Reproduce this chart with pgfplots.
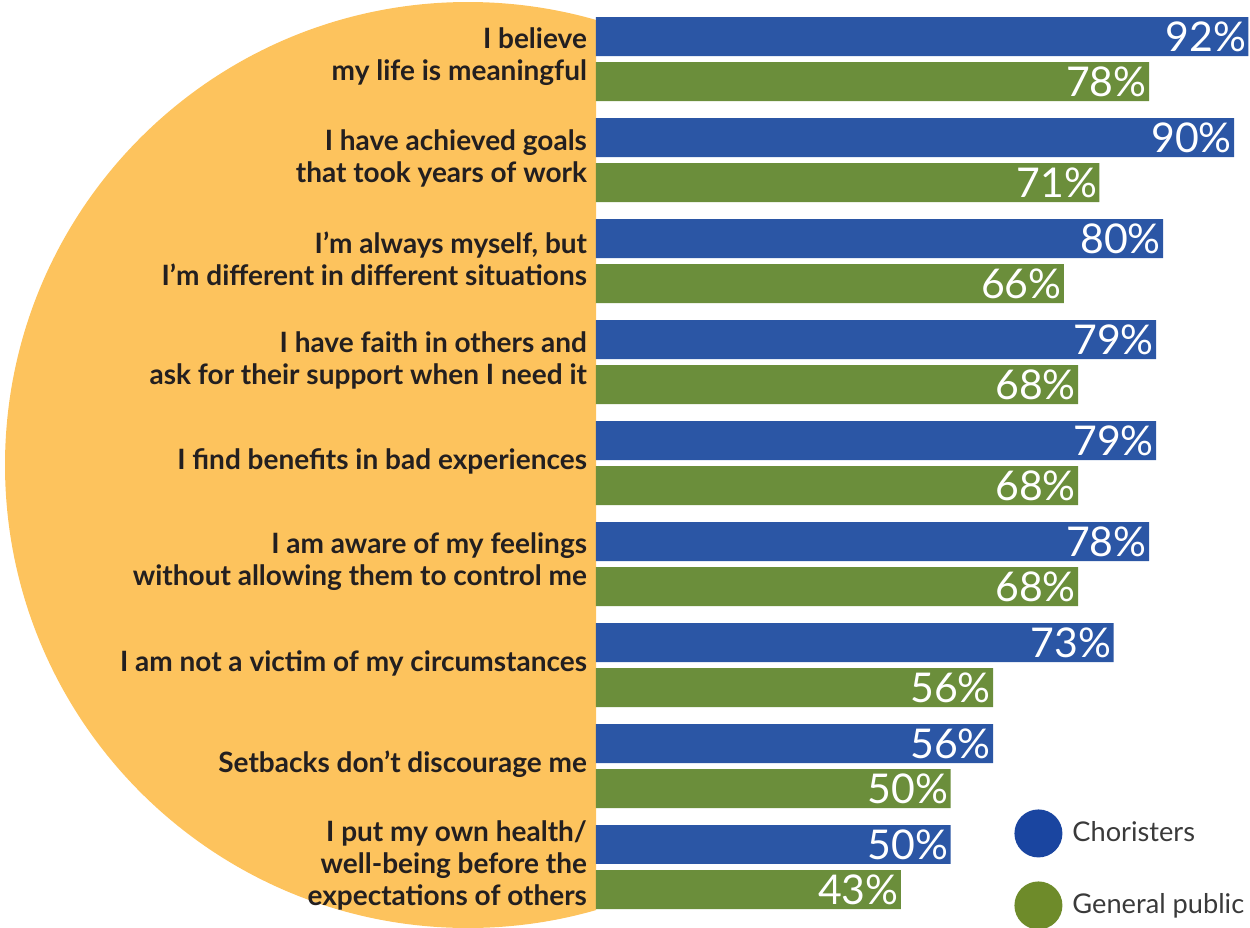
\documentclass[border=0pt]{standalone}
\usepackage{fontspec}
\setmainfont{Lato}
\usepackage{pgfplots}
\pgfplotsset{compat=1.18}

\definecolor{halo}{HTML}{FDC35D}
\definecolor{barblue}{HTML}{2B56A5}
\definecolor{bargreen}{HTML}{6B8E3B}
\definecolor{legblue}{HTML}{1A45A0}
\definecolor{leggreen}{HTML}{6E8B2A}
\definecolor{labtext}{HTML}{231F20}
\definecolor{legtext}{HTML}{3A3A3A}

% 1 px of the reference = 0.5pt
\begin{document}
\begin{tikzpicture}
\useasboundingbox (0,0) rectangle (625pt,-464pt);
\begin{scope}
  \clip (0,0) rectangle (298pt,-464pt);
  \fill[halo] (234pt,-232.5pt) circle (231.5pt);
\end{scope}
\begin{axis}[
    at={(298pt,0pt)}, anchor=north west,
    scale only axis, width=327pt, height=464pt,
    xmin=0, xmax=92.24, ymin=-0.5842, ymax=8.604, y dir=reverse,
    xbar, bar width=0.386, bar shift=0pt,
    axis line style={draw=none}, xtick=\empty,
    ytick={0,...,8}, major tick length=0pt,
    yticklabels={
      {I believe\\my life is meaningful},
      {I have achieved goals\\that took years of work},
      {I’m always myself, but\\I’m different in different situations},
      {I have faith in others and\\ask for their support when I need it},
      {I find benefits in bad experiences},
      {I am aware of my feelings\\without allowing them to control me},
      {I am not a victim of my circumstances},
      {Setbacks don’t discourage me},
      {I put my own health/\\well-being before the\\expectations of others}},
    yticklabel style={align=right, text=labtext, yshift=1pt, xshift=-1pt,
      font=\bfseries\fontsize{14}{16}\selectfont},
    /pgf/number format/assume math mode=true,
    point meta=x,
    nodes near coords={\pgfmathprintnumber{\pgfplotspointmeta}\%},
    nodes near coords style={anchor=east, text=white, inner sep=1pt,
      font=\fontsize{20.5}{20}\selectfont},
    clip=false,
    legend cell align=left,
    legend style={at={(axis cs:58.96,7.426)}, anchor=north west,
      draw=none, fill=none, inner sep=0pt, row sep=12pt,
      font=\fontsize{13.6}{16}\selectfont, text=legtext,
      nodes={inner xsep=5pt}},
]
\addplot[draw=none, fill=barblue,
  legend image code/.code={\fill[legblue] (12pt,0pt) circle (12pt);}]
  coordinates {(92,-0.2228) (90,0.7772) (80,1.7772) (79,2.7772) (79,3.7772)
               (78,4.7772) (73,5.7772) (56,6.7772) (50,7.7772)};
\addlegendentry{Choristers}
\addplot[draw=none, fill=bargreen,
  legend image code/.code={\fill[leggreen] (12pt,0pt) circle (12pt);}]
  coordinates {(78,0.2228) (71,1.2228) (66,2.2228) (68,3.2228) (68,4.2228)
               (68,5.2228) (56,6.2228) (50,7.2228) (43,8.2228)};
\addlegendentry{General public}
\end{axis}
\end{tikzpicture}
\end{document}
